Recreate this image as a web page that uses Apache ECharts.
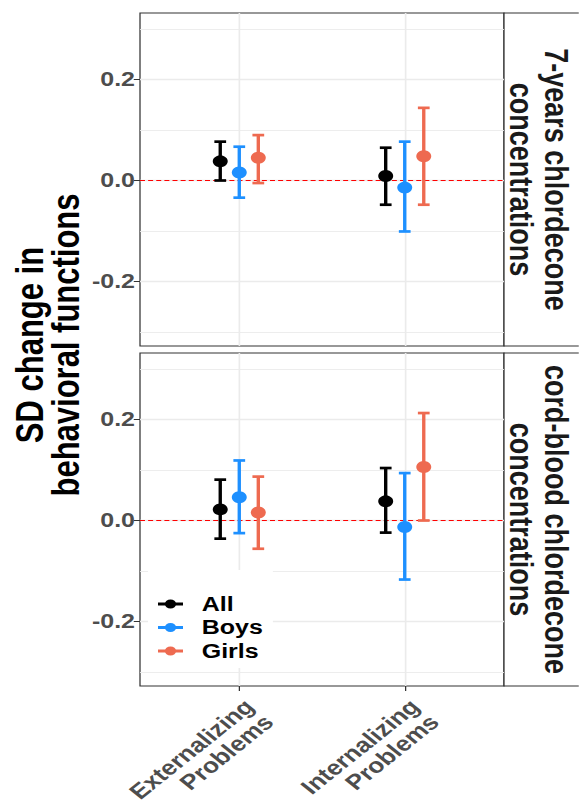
<!DOCTYPE html>
<html>
<head>
<meta charset="utf-8">
<script src="https://cdn.jsdelivr.net/npm/echarts@6/dist/echarts.min.js"></script>
<style>
  html, body { margin: 0; padding: 0; background: #fff; overflow: hidden; }
  #main { height: 801px; transform-origin: 0 0; }
</style>
</head>
<body>
<div id="main"></div>
<script>
// the reference picture is stretched sideways, so the chart is drawn narrow and scaled in x
var STRETCH = 1.25;

var categories = ['Externalizing\nProblems', 'Internalizing\nProblems'];
var groups = ['All', 'Boys', 'Girls'];
var groupColors = ['#000000', '#1E90FF', '#EE6A50'];
var dodge = [-0.115, 0, 0.115];
var yTicks = [-0.2, 0, 0.2];
var yGrid = [-0.3, -0.1, 0.1, 0.3];
var panelLabels = ['7-years chlordecone\nconcentrations', 'cord-blood chlordecone\nconcentrations'];

// estimates per group (All, Boys, Girls) x category (Ext, Int)
var sevenYrEst  = [[0.038, 0.009], [0.016, -0.014], [0.045, 0.048]];
var sevenYrLow  = [[0.000, -0.048], [-0.034, -0.101], [-0.005, -0.048]];
var sevenYrHigh = [[0.077, 0.065], [0.067, 0.077], [0.090, 0.144]];

var cordEst  = [[0.022, 0.038], [0.046, -0.013], [0.016, 0.106]];
var cordLow  = [[-0.036, -0.024], [-0.025, -0.117], [-0.056, 0.000]];
var cordHigh = [[0.081, 0.104], [0.119, 0.094], [0.087, 0.213]];

var panels = [
  { est: sevenYrEst, low: sevenYrLow, high: sevenYrHigh },
  { est: cordEst, low: cordLow, high: cordHigh }
];

var FONT = '"Liberation Sans", Arial, sans-serif';
var W = 579 / STRETCH;
var dom = document.getElementById('main');
dom.style.width = W + 'px';
dom.style.transform = 'scaleX(' + STRETCH + ')';

var panelLeft = 140 / STRETCH;
var panelRight = 504 / STRETCH;
var panelTops = [13, 353];
var panelH = 333;
var xMin = 0.4, xMax = 2.6;
var yMin = -0.328, yMax = 0.332;

var keyIcon = 'path://M0,3H20V6H0Z M14.5,4.5A4.5,4.5 0 1 1 5.5,4.5A4.5,4.5 0 1 1 14.5,4.5Z';

function errorBar(color) {
  return function (params, api) {
    var x = api.value(0);
    var pLo = api.coord([x, api.value(1)]);
    var pHi = api.coord([x, api.value(2)]);
    var w = 4.7;
    var st = { stroke: color, lineWidth: 2.7 };
    return {
      type: 'group',
      children: [
        { type: 'line', shape: { x1: pLo[0], y1: pLo[1], x2: pHi[0], y2: pHi[1] }, style: st },
        { type: 'line', shape: { x1: pLo[0] - w, y1: pLo[1], x2: pLo[0] + w, y2: pLo[1] }, style: st },
        { type: 'line', shape: { x1: pHi[0] - w, y1: pHi[1], x2: pHi[0] + w, y2: pHi[1] }, style: st }
      ]
    };
  };
}

var grids = [], xAxes = [], yAxes = [], series = [], graphics = [];

panels.forEach(function (p, pi) {
  grids.push({
    left: panelLeft, top: panelTops[pi], width: panelRight - panelLeft, height: panelH,
    outerBoundsMode: 'none', containLabel: false,
    show: true, borderColor: '#333333', borderWidth: 1, backgroundColor: '#fff'
  });
  var isBottom = pi === panels.length - 1;
  xAxes.push({
    gridIndex: pi, type: 'value', min: xMin, max: xMax,
    splitLine: { show: false }, axisLine: { show: false, onZero: false },
    axisTick: { show: isBottom, customValues: [1, 2], length: 5, lineStyle: { color: '#333', width: 1 } },
    axisLabel: {
      show: isBottom, customValues: [1, 2],
      formatter: function (v) { return categories[Math.round(v) - 1]; },
      rotate: 45, align: 'right', verticalAlign: 'top', margin: 9,
      fontSize: 21, fontWeight: 'bold', color: '#4D4D4D', fontFamily: FONT, lineHeight: 22
    }
  });
  yAxes.push({
    gridIndex: pi, type: 'value', min: yMin, max: yMax,
    splitLine: { show: false }, axisLine: { show: false, onZero: false },
    axisTick: { show: true, customValues: yTicks, length: 5, lineStyle: { color: '#333', width: 1 } },
    axisLabel: {
      customValues: yTicks, margin: 4,
      formatter: function (v) { return v.toFixed(1); },
      fontSize: 20, fontWeight: 'bold', color: '#4D4D4D', fontFamily: FONT
    }
  });

  // grid lines
  var lines = [];
  yGrid.forEach(function (v) { lines.push({ yAxis: v, lineStyle: { color: '#EBEBEB', width: 0.8, type: 'solid' } }); });
  yTicks.forEach(function (v) { lines.push({ yAxis: v, lineStyle: { color: '#EBEBEB', width: 1.3, type: 'solid' } }); });
  [1, 2].forEach(function (v) { lines.push({ xAxis: v, lineStyle: { color: '#EBEBEB', width: 1.3, type: 'solid' } }); });
  series.push({
    type: 'line', xAxisIndex: pi, yAxisIndex: pi, data: [], z: 1, silent: true,
    markLine: { z: 1, silent: true, symbol: 'none', label: { show: false }, data: lines }
  });
  // red dashed zero line
  series.push({
    type: 'line', xAxisIndex: pi, yAxisIndex: pi, z: 2, silent: true,
    showSymbol: false, symbol: 'none',
    lineStyle: { color: '#FF0000', width: 1.1, type: [4, 2.5] },
    data: [[xMin, 0], [xMax, 0]]
  });

  groups.forEach(function (g, gi) {
    var bars = [], pts = [];
    categories.forEach(function (c, ci) {
      var x = ci + 1 + dodge[gi];
      bars.push([x, p.low[gi][ci], p.high[gi][ci]]);
      pts.push([x, p.est[gi][ci]]);
    });
    series.push({
      name: g, type: 'custom', xAxisIndex: pi, yAxisIndex: pi, z: 3,
      itemStyle: { color: groupColors[gi] },
      encode: { x: 0, y: [1, 2] },
      renderItem: errorBar(groupColors[gi]), data: bars
    });
    series.push({
      name: g, type: 'scatter', xAxisIndex: pi, yAxisIndex: pi, z: 4,
      symbolSize: 12, itemStyle: { color: groupColors[gi], opacity: 1 }, data: pts
    });
  });

  // strip on the right
  graphics.push({
    type: 'rect', shape: { x: panelRight, y: panelTops[pi], width: 80, height: panelH },
    style: { fill: '#fff', stroke: '#333333', lineWidth: 1 }
  });
  graphics.push({
    type: 'text', x: 431.6, y: panelTops[pi] + panelH / 2, rotation: -Math.PI / 2,
    style: {
      text: panelLabels[pi], font: 'bold 27px ' + FONT, fill: '#1A1A1A',
      align: 'center', verticalAlign: 'middle', textAlign: 'center', textVerticalAlign: 'middle', lineHeight: 28
    }
  });
});

graphics.push({
  type: 'text', x: 38, y: 345, rotation: Math.PI / 2,
  style: {
    text: 'SD change in\nbehavioral functions', font: 'bold 31px ' + FONT, fill: '#000',
    align: 'center', verticalAlign: 'middle', textAlign: 'center', textVerticalAlign: 'middle', lineHeight: 29
  }
});

var myChart = echarts.init(dom, null, { renderer: 'svg' });
var option = {
  animation: false,
  backgroundColor: '#fff',
  grid: grids,
  xAxis: xAxes,
  yAxis: yAxes,
  legend: {
    orient: 'vertical', left: 118.4, top: 570, padding: [24, 8, 7, 8],
    backgroundColor: '#fff', itemWidth: 20, itemHeight: 9, itemGap: 3.5,
    selectedMode: false,
    textStyle: { fontSize: 20, fontWeight: 'bold', color: '#000', fontFamily: FONT, lineHeight: 20, padding: [0, 0, 0, 10] },
    data: groups.map(function (g, i) { return { name: g, icon: keyIcon, itemStyle: { color: groupColors[i] } }; })
  },
  graphic: graphics,
  series: series
};
myChart.setOption(option);
</script>
</body>
</html>
